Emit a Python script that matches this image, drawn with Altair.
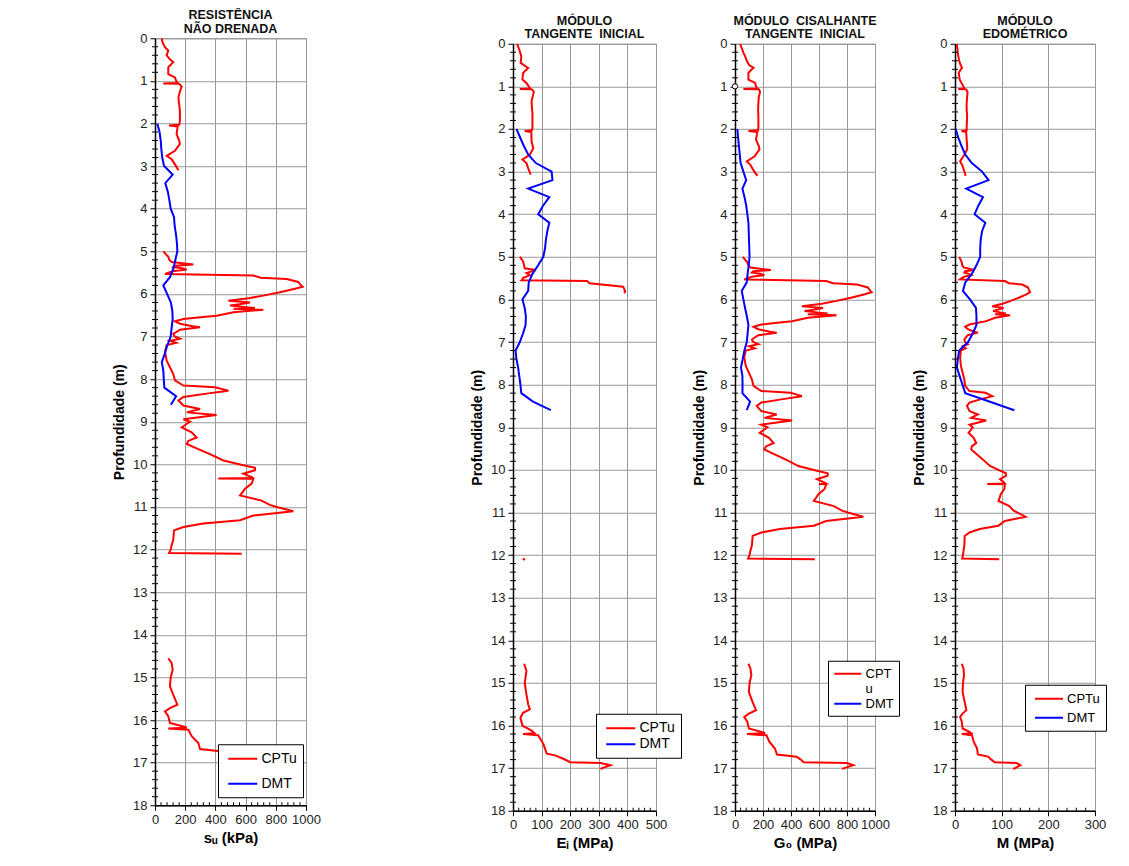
import altair as alt
import pandas as pd

FONT = "Liberation Sans"
RED = "#FF0000"
BLUE = "#0000FF"

# ---------------- CPTu depths (m), three segments ----------------
cptu_depth_a = [0.00, 0.10, 0.21, 0.29, 0.40, 0.50, 0.56, 0.68, 0.84, 0.92, 1.00, 1.05, 1.06, 1.07, 1.13,
                1.25, 1.39, 1.55, 1.70, 1.94, 2.03, 2.05, 2.07, 2.25, 2.40, 2.48, 2.64, 2.76, 2.84, 2.96, 3.10]
cptu_depth_b = [5.00, 5.06, 5.13, 5.20, 5.25, 5.31, 5.34, 5.37, 5.40, 5.43,
                5.46, 5.49, 5.53, 5.57, 5.62, 5.65, 5.72, 5.77, 5.83, 5.88,
                5.96, 6.04, 6.10, 6.16, 6.20, 6.24, 6.27, 6.31, 6.33, 6.35,
                6.37, 6.43, 6.51, 6.55, 6.59, 6.64, 6.70, 6.76, 6.78, 6.84,
                6.94, 7.00, 7.05, 7.10, 7.15, 7.20, 7.36, 7.56, 7.72, 7.88,
                8.03, 8.15, 8.19, 8.27, 8.34, 8.42, 8.50, 8.62, 8.70, 8.78,
                8.84, 8.94, 9.00, 9.13, 9.25, 9.37, 9.45, 9.52, 9.60, 9.76,
                9.91, 10.02, 10.08, 10.14, 10.22, 10.30, 10.32, 10.33, 10.34, 10.45,
                10.57, 10.65, 10.73, 10.85, 10.95, 11.00, 11.10, 11.20, 11.31, 11.39,
                11.47, 11.55, 11.77, 11.90, 12.00, 12.08, 12.10]
cptu_depth_c = [14.55, 14.66, 14.82, 15.00, 15.21, 15.41, 15.64, 15.72, 15.80, 15.91, 16.07, 16.15, 16.18,
                16.20, 16.23, 16.38, 16.54, 16.68, 16.73, 16.80, 16.86, 16.88, 16.93, 17.00, 17.02]

# su (kPa) - CPTu
su_a = [44, 50, 66, 88, 77, 100, 121, 88, 88, 132, 140, 150, 55, 160, 176,
        165, 155, 160, 165, 165, 160, 93, 150, 143, 160, 165, 132, 77, 110, 132, 155]
su_b = [55, 70, 88, 95, 110, 254, 130, 121, 180, 210,
        130, 99, 66, 651, 700, 872, 949, 960, 978, 927,
        828, 717, 620, 486, 629, 560, 497, 600, 662, 520,
        717, 520, 408, 300, 188, 132, 166, 250, 298, 166,
        121, 130, 166, 99, 140, 77, 66, 77, 99, 121,
        132, 188, 397, 486, 342, 188, 155, 188, 298, 210,
        408, 188, 232, 177, 243, 276, 220, 210, 260, 364,
        453, 585, 662, 662, 585, 640, 651, 419, 651, 640,
        596, 580, 563, 706, 760, 806, 916, 651, 563, 320,
        188, 126, 121, 110, 104, 93, 574]
su_c = [88, 110, 117, 104, 99, 121, 148, 99, 66, 88, 99, 188, 210,
        88, 221, 243, 287, 298, 430, 480, 500, 800, 850, 780, 760]

# G0 (MPa) - CPTu
g0_a = [36, 48, 60, 72, 84, 100, 132, 96, 96, 144, 150, 160, 60, 170, 179,
        170, 167, 165, 167, 167, 165, 96, 160, 150, 170, 175, 140, 84, 110, 130, 160]
g0_b = [55, 70, 88, 95, 110, 256, 130, 121, 180, 210,
        130, 99, 66, 651, 700, 872, 949, 960, 976, 927,
        828, 717, 620, 478, 629, 560, 497, 600, 662, 520,
        725, 520, 408, 300, 188, 132, 166, 250, 298, 166,
        121, 130, 166, 99, 140, 77, 66, 77, 99, 121,
        132, 188, 397, 478, 342, 188, 155, 188, 298, 210,
        408, 188, 232, 177, 243, 276, 220, 210, 260, 364,
        453, 585, 662, 662, 585, 640, 651, 600, 651, 640,
        596, 580, 563, 706, 760, 806, 916, 651, 563, 320,
        188, 126, 121, 110, 104, 93, 570]
g0_c = [96, 110, 117, 104, 99, 121, 150, 99, 66, 88, 99, 190, 215,
        85, 225, 245, 285, 300, 440, 470, 490, 800, 845, 780, 766]

# M (MPa) - CPTu
m_a = [4, 5, 6, 7, 9, 12, 15, 8, 10, 14, 18, 20, 7, 24, 27,
       26, 25, 25, 26, 25, 25, 14, 24, 25, 26, 26, 18, 11, 15, 19, 23]
m_b = [9, 11.6, 14.5, 15.7, 18.2, 41.9, 21.5, 20, 29.7, 34.7,
       21.5, 16.3, 10.9, 107, 115.5, 144, 156.6, 158, 161, 153,
       136.6, 118, 102, 80, 104, 92, 82, 99, 109, 86,
       118, 86, 67, 49.5, 31, 21.8, 27.4, 41, 49, 27.4,
       20, 21.5, 27.4, 16.3, 23, 12.7, 10.9, 12.7, 16.3, 20,
       21.8, 31, 65.5, 80, 56, 31, 25.6, 31, 49, 34.7,
       67, 31, 38, 29, 40, 45.5, 36, 34.7, 43, 60,
       75, 96.5, 109, 109, 96.5, 105.6, 107, 69, 107, 105.6,
       98, 95.7, 93, 116.5, 125, 133, 151, 107, 93, 53,
       31, 20.8, 20, 18.2, 17.2, 15.3, 94.7]
m_c = [14.5, 18.2, 19.3, 17.2, 16.3, 20, 24.4, 16.3, 10.9, 14.5, 16.3, 31, 34.7,
       14.5, 36.5, 40, 47.4, 49, 71, 78, 85, 132, 140, 129, 125]

# Ei (MPa) - CPTu
ei_depth_a = [0.00, 0.10, 0.18, 0.30, 0.45, 0.57, 0.69, 0.84, 0.92, 1.00, 1.05, 1.06, 1.07, 1.12,
              1.35, 1.66, 1.98, 2.03, 2.05, 2.07, 2.30, 2.45, 2.60, 2.72, 2.80, 2.92, 3.07]
ei_a = [14, 20, 24, 29, 27, 53, 35, 33, 47, 55, 60, 24, 65, 73,
        65, 68, 68, 66, 41, 64, 65, 71, 59, 33, 47, 53, 62]
ei_depth_b = [5.00, 5.10, 5.27, 5.31, 5.33, 5.38, 5.43, 5.50, 5.53, 5.55, 5.57, 5.62, 5.70, 5.77, 5.82, 5.85]
ei_b = [24, 35, 41, 80, 71, 47, 59, 35, 33, 30, 259, 268, 385, 390, 392, 388]
ei_depth_c = [14.55, 14.72, 15.00, 15.27, 15.50, 15.62, 15.70, 15.82, 16.00, 16.12, 16.18,
              16.20, 16.23, 16.43, 16.66, 16.70, 16.78, 16.86, 16.88, 16.93, 17.00, 17.02]
ei_c = [39, 47, 41, 47, 53, 59, 35, 26, 33, 65, 75,
        35, 88, 106, 118, 147, 176, 200, 306, 341, 312, 306]
ei_dot_depth = [12.1]
ei_dot = [38]

# ---------------- DMT ----------------
dmt_depth = [2.0, 2.2, 2.4, 2.6, 2.8, 3.0, 3.2, 3.4, 3.6, 3.8, 4.0, 4.2, 4.4, 4.6, 4.8, 5.0, 5.2,
             5.4, 5.6, 5.8, 6.0, 6.2, 6.4, 6.6, 6.8, 7.0, 7.2, 7.4, 7.6, 7.8, 8.0, 8.2, 8.4, 8.6]
dmt_su = [15, 30, 38, 42, 48, 60, 117, 68, 85, 95, 104, 126, 130, 139, 145, 148, 135,
          122, 100, 55, 80, 105, 115, 117, 110, 104, 82, 65, 45, 55, 58, 62, 140, 105]
dmt_ei = [12, 25, 38, 53, 80, 135, 138, 53, 127, 105, 88, 127, 120, 115, 112, 106, 88,
          68, 55, 53, 33, 41, 45, 44, 35, 24, 9, 12, 18, 22, 26, 29, 70, 132]
dmt_g0 = [17, 22, 28, 34, 40, 60, 80, 53, 68, 80, 88, 96, 98, 100, 102, 104, 98,
          90, 84, 48, 60, 72, 85, 96, 90, 84, 67, 55, 43, 53, 54, 53, 108, 84]
dmt_m = [1.5, 7, 14, 22, 36, 58, 72, 24, 60, 50, 42, 65, 58, 55, 54, 54, 46,
         36, 22, 17, 32, 45, 46, 46, 38, 28, 9, 6, 4, 10, 16, 22, 75, 127]

# marker on G0 axis
g0_marker_depth = [1.0]
g0_marker = [0]

H = 767
SP = " \u00a0"  # wide gap as in the original titles


def build_df(segments, dmt_d, dmt_v):
    rows = []
    i = 0
    for k, (d, v) in enumerate(segments):
        for dd, vv in zip(d, v):
            rows.append({"depth": dd, "val": vv, "serie": "CPTu", "seg": f"c{k}", "i": i})
            i += 1
    for dd, vv in zip(dmt_d, dmt_v):
        rows.append({"depth": dd, "val": vv, "serie": "DMT", "seg": "dmt", "i": i})
        i += 1
    return pd.DataFrame(rows)


def panel(df, xmax, xstep, xminor, xtitle, title_lines, w, lx, ly, row_pad, sym_len, lab_size,
          pad=6, sym_off=3, label_expr=None, extras=()):
    yscale = alt.Scale(domain=[0, 18], reverse=True, nice=False, zero=False)
    xscale = alt.Scale(domain=[0, xmax], nice=False, zero=False)
    xaxis = alt.Axis(values=list(range(0, xmax + 1, xstep)), title=xtitle, grid=True, format="d",
                     labelPadding=3, titlePadding=4, labelFlush=False)
    yaxis = alt.Axis(values=list(range(0, 19)), title="Profundidade (m)", grid=True,
                     labelPadding=3, titlePadding=6, titleFontSize=14)
    half = sym_len / 2.0
    leg_kw = dict(title=None, orient="none", legendX=lx, legendY=ly, fillColor="white",
                  strokeColor="black", padding=pad, symbolOffset=sym_off,
                  symbolType="M-1,0H3", symbolStrokeWidth=2, symbolSize=half * half,
                  labelFont=FONT, labelFontSize=lab_size, labelColor="black",
                  rowPadding=row_pad, labelOffset=half + 3)
    if label_expr:
        leg_kw["labelExpr"] = label_expr
    lines = alt.Chart(df).mark_line(strokeWidth=2, clip=True).encode(
        x=alt.X("val:Q", scale=xscale, axis=xaxis),
        y=alt.Y("depth:Q", scale=yscale, axis=yaxis),
        color=alt.Color("serie:N", scale=alt.Scale(domain=["CPTu", "DMT"], range=[RED, BLUE]),
                        legend=alt.Legend(**leg_kw)),
        detail="seg:N",
        order="i:Q",
    )
    ymin = pd.DataFrame({"depth": [k / 5 for k in range(91) if k % 5]})
    yminor = alt.Chart(ymin).mark_rule(color="black", strokeWidth=1).encode(
        y=alt.Y("depth:Q", scale=yscale, axis=yaxis), x=alt.value(-3), x2=alt.value(3))
    xmin_vals = [v for v in range(0, xmax + 1, xminor) if v % xstep]
    xmin = pd.DataFrame({"val": xmin_vals})
    xminor_l = alt.Chart(xmin).mark_rule(color="black", strokeWidth=1).encode(
        x=alt.X("val:Q", scale=xscale, axis=xaxis), y=alt.value(H - 3), y2=alt.value(H))
    layers = [lines, yminor, xminor_l]
    for ex in extras:
        layers.append(ex(xscale, yscale, xaxis, yaxis))
    return alt.layer(*layers).properties(
        width=w, height=H,
        title=alt.TitleParams(text=title_lines, font=FONT, fontSize=12.5, fontWeight="bold",
                              color="#111111", anchor="middle", offset=-3, lineHeight=13.5,
                              frame="group"),
    )


df_su = build_df([(cptu_depth_a, su_a), (cptu_depth_b, su_b), (cptu_depth_c, su_c)], dmt_depth, dmt_su)
df_ei = build_df([(ei_depth_a, ei_a), (ei_depth_b, ei_b), (ei_depth_c, ei_c)], dmt_depth, dmt_ei)
df_g0 = build_df([(cptu_depth_a, g0_a), (cptu_depth_b, g0_b), (cptu_depth_c, g0_c)], dmt_depth, dmt_g0)
df_m = build_df([(cptu_depth_a, m_a), (cptu_depth_b, m_b), (cptu_depth_c, m_c)], dmt_depth, dmt_m)


def ei_dot_layer(xs, ys, xa, ya):
    d = pd.DataFrame({"val": ei_dot, "depth": ei_dot_depth})
    return alt.Chart(d).mark_point(filled=True, color=RED, size=6, opacity=1).encode(
        x=alt.X("val:Q", scale=xs, axis=xa), y=alt.Y("depth:Q", scale=ys, axis=ya))


def g0_marker_layer(xs, ys, xa, ya):
    d = pd.DataFrame({"val": g0_marker, "depth": g0_marker_depth})
    return alt.Chart(d).mark_point(filled=True, fill="white", stroke="black", strokeWidth=1,
                                   size=28, opacity=1, clip=False).encode(
        x=alt.X("val:Q", scale=xs, axis=xa), y=alt.Y("depth:Q", scale=ys, axis=ya))


def spacer_layer(xs, ys, xa, ya):
    # invisible element below the first panel: lifts that panel a little in the centred row
    d = pd.DataFrame({"t": ["."]})
    return alt.Chart(d).mark_text(opacity=0, baseline="bottom", fontSize=10).encode(
        text="t:N", x=alt.value(0), y=alt.value(H + 51))


p1 = panel(df_su, 1000, 200, 40, "sᵤ (kPa)", ["RESISTÊNCIA", "NÃO DRENADA"], 151, 63, 706, 9, 29, 14,
           extras=(spacer_layer,))
p2 = panel(df_ei, 500, 100, 20, "Eᵢ (MPa)", ["MÓDULO", "TANGENTE" + SP + "INICIAL"], 143, 83, 670, 0, 29, 14,
           extras=(ei_dot_layer,))
p3 = panel(df_g0, 1000, 200, 40, "G₀ (MPa)", ["MÓDULO" + SP + "CISALHANTE", "TANGENTE" + SP + "INICIAL"],
           140, 93, 617, 0, 27, 13, pad=5, sym_off=0,
           label_expr="datum.label == 'CPTu' ? ['CPT', 'u'] : datum.label",
           extras=(g0_marker_layer,))
p4 = panel(df_m, 300, 100, 20, "M (MPa)", ["MÓDULO", "EDOMÉTRICO"], 140, 70, 641, 4, 28, 13)

inner34 = alt.hconcat(p3, p4, spacing=12).resolve_scale(color="independent").resolve_legend(color="independent")
inner = alt.hconcat(p2, inner34, spacing=10).resolve_scale(color="independent").resolve_legend(color="independent")
chart = alt.hconcat(p1, inner, spacing=149, center=True).resolve_scale(color="independent").resolve_legend(
    color="independent").properties(
    padding={"left": 104, "top": 0, "right": 0, "bottom": 0}
).configure_view(stroke="#888888", strokeWidth=1).configure_axis(
    gridColor="#999999", gridWidth=1, domainColor="black", domainWidth=1.5, tickColor="black",
    tickSize=5, labelFont=FONT, labelFontSize=13, labelColor="#222222", titleFont=FONT,
    titleFontSize=15, titleFontWeight="bold", titleColor="black"
)

chart.save("out.html", embed_options={"renderer": "svg", "actions": False})
